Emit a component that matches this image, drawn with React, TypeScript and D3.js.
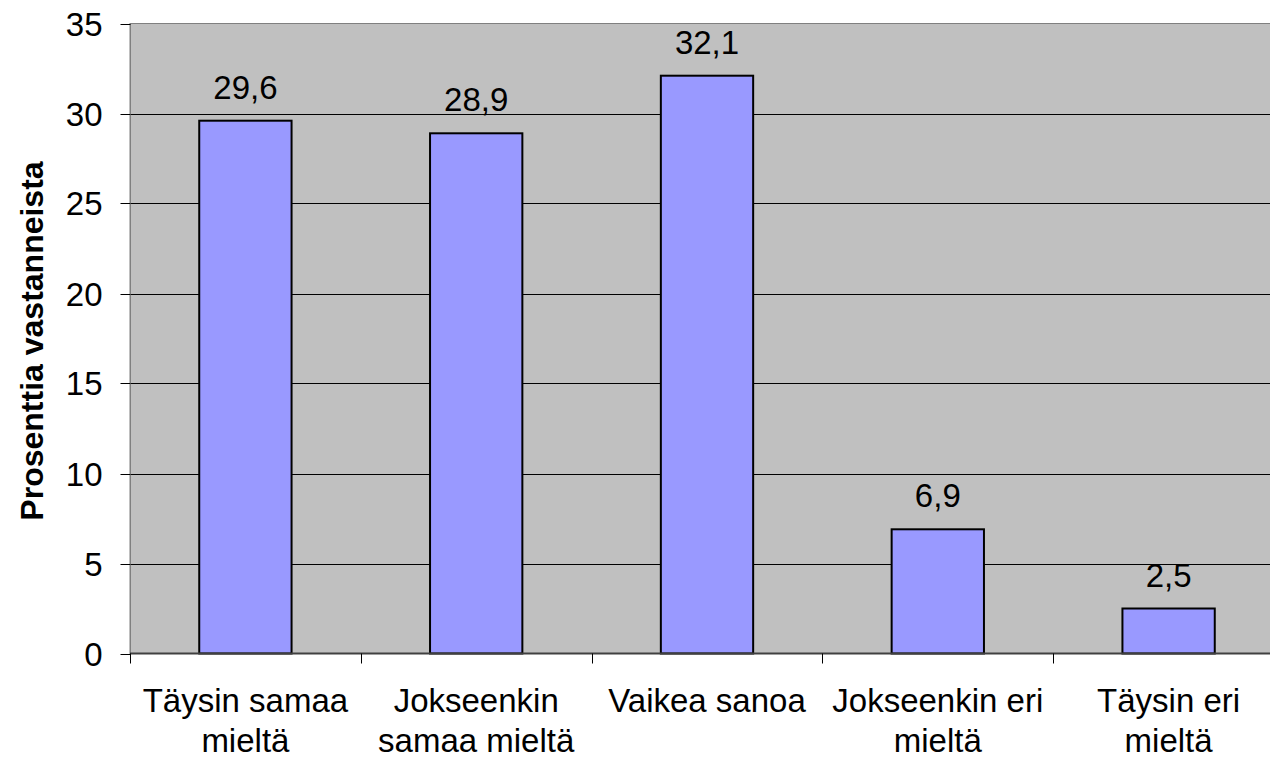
import { useEffect, useRef } from 'react';
import * as d3 from 'd3';

const categories = [
    ['Täysin samaa', 'mieltä'],
    ['Jokseenkin', 'samaa mieltä'],
    ['Vaikea sanoa'],
    ['Jokseenkin eri', 'mieltä'],
    ['Täysin eri', 'mieltä'],
];
const values = [29.6, 28.9, 32.1, 6.9, 2.5];
const yTicks = [0, 5, 10, 15, 20, 25, 30, 35];
const yLabel = 'Prosenttia vastanneista';

export default function App() {
    const svgRef = useRef<SVGSVGElement>(null);

    useEffect(() => {
        if (!svgRef.current) return;
        const width = 1270;
        const height = 761;
        const svg = d3.select(svgRef.current);
        svg.selectAll('*').remove();

        const left = 130;
        const right = 1284;
        const top = 23.5;
        const bottom = 653.5;
        const font = 'Liberation Sans, Arial, sans-serif';

        const x = d3
            .scaleBand<number>()
            .domain(d3.range(values.length))
            .range([left, right])
            .paddingInner(0)
            .paddingOuter(0);
        const y = d3.scaleLinear().domain([0, 35]).range([bottom, top]);

        // plot background
        svg.append('rect')
            .attr('x', left)
            .attr('y', top)
            .attr('width', right - left)
            .attr('height', bottom - top)
            .attr('fill', '#c0c0c0')
            .attr('stroke', '#808080')
            .attr('stroke-width', 1);

        // grid lines
        svg.append('g')
            .selectAll('line')
            .data(yTicks.filter((t) => t > 0 && t < 35))
            .enter()
            .append('line')
            .attr('x1', left)
            .attr('x2', right)
            .attr('y1', (d) => Math.round(y(d)) + 0.5)
            .attr('y2', (d) => Math.round(y(d)) + 0.5)
            .attr('stroke', '#000')
            .attr('stroke-width', 1);

        // bars
        const bw = x.bandwidth() * 0.4;
        svg.append('g')
            .selectAll('rect')
            .data(values)
            .enter()
            .append('rect')
            .attr('x', (_, i) => (x(i) as number) + (x.bandwidth() - bw) / 2)
            .attr('y', (d) => y(d))
            .attr('width', bw)
            .attr('height', (d) => y(0) - y(d))
            .attr('fill', '#9999ff')
            .attr('stroke', '#000')
            .attr('stroke-width', 2);

        // value labels
        svg.append('g')
            .selectAll('text')
            .data(values)
            .enter()
            .append('text')
            .attr('x', (_, i) => (x(i) as number) + x.bandwidth() / 2)
            .attr('y', (d) => y(d) - 22)
            .attr('text-anchor', 'middle')
            .attr('font-family', font)
            .attr('font-size', '33px')
            .attr('fill', '#000')
            .text((d) => d.toFixed(1).replace('.', ','));

        // y axis
        const yAxis = svg.append('g').attr('transform', `translate(${left + 0.5},0)`);
        yAxis.append('line').attr('y1', top).attr('y2', bottom).attr('stroke', '#808080');
        yTicks.forEach((t) => {
            const yy = Math.round(y(t)) + 0.5;
            yAxis.append('line').attr('x1', -10).attr('x2', 0).attr('y1', yy).attr('y2', yy).attr('stroke', '#000');
            yAxis
                .append('text')
                .attr('x', -28)
                .attr('y', yy)
                .attr('dy', '0.35em')
                .attr('text-anchor', 'end')
                .attr('font-family', font)
                .attr('font-size', '33px')
                .text(t);
        });

        // x axis
        const xAxis = svg.append('g');
        xAxis.append('line')
            .attr('x1', left)
            .attr('x2', right)
            .attr('y1', bottom)
            .attr('y2', bottom)
            .attr('stroke', '#404040')
            .attr('stroke-width', 2);
        d3.range(values.length + 1).forEach((i) => {
            const xx = Math.round(left + i * x.step()) + 0.5;
            xAxis.append('line').attr('x1', xx).attr('x2', xx).attr('y1', bottom).attr('y2', bottom + 10).attr('stroke', '#000');
        });
        categories.forEach((lines, i) => {
            const cx = (x(i) as number) + x.bandwidth() / 2;
            const t = xAxis
                .append('text')
                .attr('text-anchor', 'middle')
                .attr('font-family', font)
                .attr('font-size', '33px');
            lines.forEach((ln, j) => {
                t.append('tspan').attr('x', cx).attr('y', 712 + j * 40).text(ln);
            });
        });

        // y label
        svg.append('text')
            .attr('transform', `translate(43,341) rotate(-90)`)
            .attr('text-anchor', 'middle')
            .attr('font-family', font)
            .attr('font-size', '32px')
            .attr('font-weight', 'bold')
            .text(yLabel);

        svg.attr('width', width).attr('height', height);
    }, []);

    return (
        <div style={{ position: 'absolute', left: 0, top: 0 }}>
            <svg ref={svgRef} style={{ display: 'block', background: '#fff' }} />
        </div>
    );
}
